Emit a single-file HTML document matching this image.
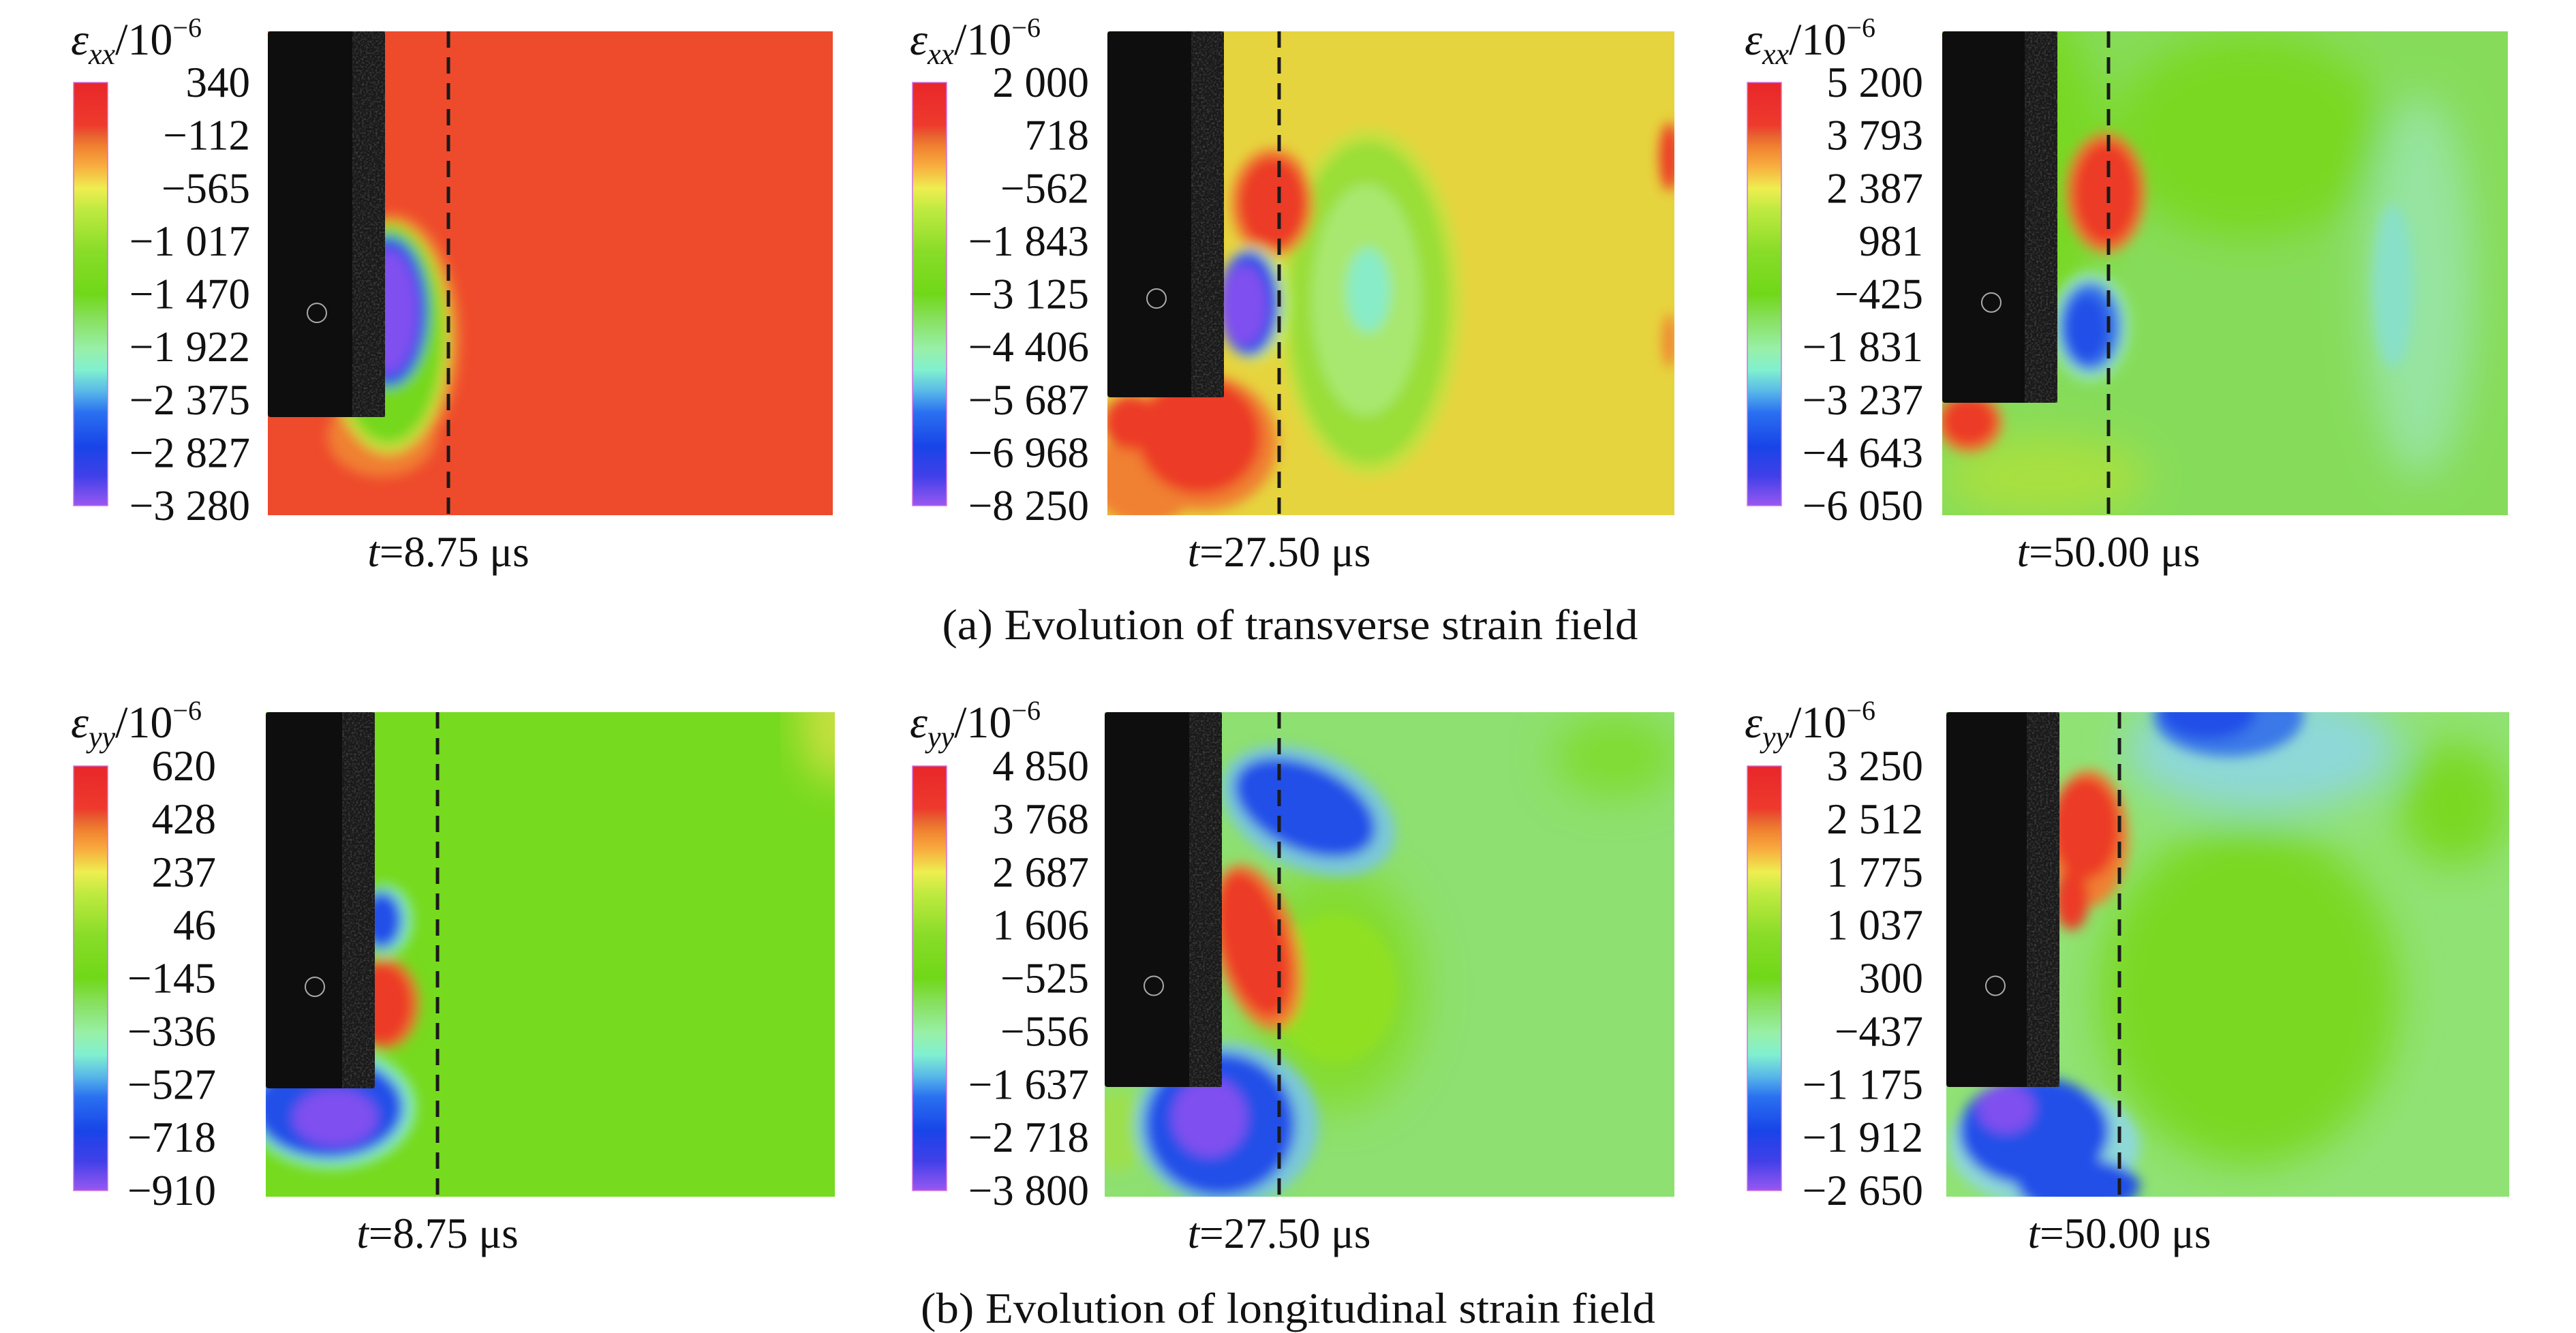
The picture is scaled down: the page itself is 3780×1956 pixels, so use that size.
<!DOCTYPE html>
<html><head><meta charset="utf-8">
<style>
html,body{margin:0;padding:0;background:#fff;}
svg{display:block;}
text{font-family:"Liberation Serif",serif;fill:#111;}
</style></head>
<body>
<svg id="fig" width="3780" height="1956" viewBox="0 0 3780 1956" xmlns="http://www.w3.org/2000/svg">
<defs>
<linearGradient id="cmap" x1="0" y1="0" x2="0" y2="1">
<stop offset="0" stop-color="#e8262a"/><stop offset="0.1" stop-color="#ee3a2c"/>
<stop offset="0.125" stop-color="#e86030"/><stop offset="0.15" stop-color="#f08030"/>
<stop offset="0.2" stop-color="#f8b040"/><stop offset="0.25" stop-color="#eeee50"/>
<stop offset="0.3" stop-color="#c0ea40"/><stop offset="0.4" stop-color="#88dc28"/>
<stop offset="0.5" stop-color="#70d818"/><stop offset="0.56" stop-color="#88e060"/>
<stop offset="0.63" stop-color="#98f0a8"/><stop offset="0.68" stop-color="#80f0d0"/>
<stop offset="0.73" stop-color="#58b8e8"/><stop offset="0.78" stop-color="#2a70f0"/>
<stop offset="0.86" stop-color="#1844e8"/><stop offset="0.93" stop-color="#4040e8"/>
<stop offset="1" stop-color="#9858f0"/>
</linearGradient>
<filter id="blur" x="-20%" y="-20%" width="140%" height="140%"><feGaussianBlur stdDeviation="9"/></filter>
<filter id="blur2" x="-30%" y="-30%" width="160%" height="160%"><feGaussianBlur stdDeviation="30"/></filter>
<filter id="speck" x="0" y="0" width="1" height="1"><feTurbulence type="fractalNoise" baseFrequency="0.35" numOctaves="1" result="n"/><feColorMatrix type="matrix" values="0 0 0 0 0.45 0 0 0 0 0.45 0 0 0 0 0.45 0 0 0 1.6 -0.7"/></filter>
</defs>
<g id="root"></g>
</svg>
<script>
// colour-bar tick labels per panel (top row: eps_xx, bottom row: eps_yy)
const ticksA1 = ["340","\u2212112","\u2212565","\u22121 017","\u22121 470","\u22121 922","\u22122 375","\u22122 827","\u22123 280"];
const ticksA2 = ["2 000","718","\u2212562","\u22121 843","\u22123 125","\u22124 406","\u22125 687","\u22126 968","\u22128 250"];
const ticksA3 = ["5 200","3 793","2 387","981","\u2212425","\u22121 831","\u22123 237","\u22124 643","\u22126 050"];
const ticksB1 = ["620","428","237","46","\u2212145","\u2212336","\u2212527","\u2212718","\u2212910"];
const ticksB2 = ["4 850","3 768","2 687","1 606","\u2212525","\u2212556","\u22121 637","\u22122 718","\u22123 800"];
const ticksB3 = ["3 250","2 512","1 775","1 037","300","\u2212437","\u22121 175","\u22121 912","\u22122 650"];
const times = ["8.75","27.50","50.00"];

const NS="http://www.w3.org/2000/svg";
const root=document.getElementById('root');
function mk(tag,attrs,parent){const e=document.createElementNS(NS,tag);for(const k in attrs)e.setAttribute(k,attrs[k]);(parent||root).appendChild(e);return e;}

const R='#ec3a28',O='#f08030',Y='#e8d840',YG='#c8e040',G='#74d81c',LG='#8ee070',C='#88ecc8',B='#2050e8',P='#8050f0';

const panels=[
 {row:0,sub:'xx',ticks:ticksA1,t:times[0],cb:108,lab:367,mx:393,mw:829,dash:658,bw:172,bb:612,bg:'#ee4a2c',
  soft:[],
  blobs:[[560,640,80,60,O],[575,496,100,182,O],[570,496,90,170,YG],[570,490,80,160,G],[570,457,58,110,B],[568,457,46,92,P]]},
 {row:0,sub:'xx',ticks:ticksA2,t:times[1],cb:1339,lab:1598,mx:1625,mw:832,dash:1877,bw:171,bb:583,bg:'#e6d43e',
  soft:[],
  blobs:[[2010,444,135,255,YG],[2008,444,118,236,'#9ade38'],[2005,440,80,170,'#a8e870'],[2008,426,32,62,C],
   [1680,700,80,70,O],[1765,650,110,100,O],[1760,640,90,85,R],[1660,620,40,40,R],
   [1867,298,60,80,O],[1867,298,50,68,R],[1840,445,52,85,'#c8f070'],[1833,445,45,78,B],[1826,448,34,60,P],
   [2450,230,15,50,R],[2450,500,10,40,O]]},
 {row:0,sub:'xx',ticks:ticksA3,t:times[2],cb:2564,lab:2822,mx:2850,mw:830,dash:3094,bw:169,bb:591,bg:'#86dc5a',
  soft:[[2950,250,140,260,'#78d822'],[3300,200,200,150,'#7ad820'],[3000,700,150,60,'#a8e040'],[3550,420,80,280,'#96e4a0']],
  blobs:[[3512,420,30,120,'#88e0c8'],
   [3090,283,58,88,O],[3090,283,48,76,R],[3067,479,58,80,'#98e8b8'],[3067,479,46,66,'#3a78e8'],[3062,482,32,50,B],
   [2890,620,48,44,O],[2889,618,40,36,R]]},
 {row:1,sub:'yy',ticks:ticksB1,t:times[0],cb:108,lab:317,mx:390,mw:835,dash:642,bw:160,bb:1597,bg:'#76da1e',
  soft:[[1225,1060,50,90,YG]],
  blobs:[[565,1350,40,52,C],[560,1350,30,42,B],[565,1473,50,66,O],[560,1473,45,60,R],
   [485,1625,125,90,C],[482,1625,110,75,B],[492,1640,62,42,P]]},
 {row:1,sub:'yy',ticks:ticksB2,t:times[1],cb:1339,lab:1598,mx:1621,mw:836,dash:1877,bw:172,bb:1595,bg:'#8ee070',
  soft:[[1960,1450,130,180,'#84dc30'],[2370,1110,90,60,'#80dc30']],
  blobs:[[1960,1450,90,110,'#90e020'],
   [1920,1190,135,85,'#7ac8d8',25],[1915,1185,110,62,B,25],
   [1845,1390,60,125,O,-15],[1840,1385,48,110,R,-15],
   [1640,1660,40,60,'#9ce050'],[1800,1650,135,120,'#7ac8d8'],[1790,1650,110,105,B],[1775,1640,55,58,P]]},
 {row:1,sub:'yy',ticks:ticksB3,t:times[2],cb:2564,lab:2822,mx:2856,mw:826,dash:3110,bw:166,bb:1595,bg:'#90e274',
  soft:[[3300,1460,220,250,'#7ad820'],[3600,1180,80,90,'#7ad820'],[3320,1100,200,90,'#8ed8d8']],
  blobs:[[3270,1050,110,60,'#3a78e8'],[3240,1045,70,40,B],
   [3065,1230,58,100,O],[3060,1215,50,75,R],[3040,1320,25,45,R],
   [3000,1680,140,90,'#8ed8d8'],[2985,1660,110,80,B],[3050,1740,90,40,B],[2944,1627,42,36,P]]}
];

panels.forEach((p,i)=>{
  const top=p.row===0?46:1045, bot=p.row===0?756:1756;
  const cbT=p.row===0?121:1124, cbB=p.row===0?742:1747;
  const g=mk('g',{});
  
  
  const tt=mk('text',{x:p.cb-4,y:p.row===0?80:1082,'font-size':66},g);
  
  
  tt.innerHTML='<tspan font-style="italic">\u03b5</tspan><tspan font-style="italic" font-size="44" dy="14">'+p.sub+'</tspan><tspan dy="-14">/10</tspan><tspan font-size="40" dy="-26">\u22126</tspan>';
  const cb=mk('rect',{x:p.cb,y:cbT,width:50,height:cbB-cbT,fill:'url(#cmap)',stroke:'#d070e0','stroke-width':1.5},g);
  
  
  const n=p.ticks.length;
  p.ticks.forEach((s,k)=>{
    const y=cbT+(cbB-cbT)*k/(n-1)+21;
    const t=mk('text',{x:p.lab,y:y,'font-size':63,'text-anchor':'end'},g);
    t.textContent=s;
    
    
  });
  const cid='clip'+i;
  const cp=mk('clipPath',{id:cid},g);
  mk('rect',{x:p.mx,y:top,width:p.mw,height:bot-top},cp);
  const map=mk('g',{'clip-path':'url(#'+cid+')'},g);
  
  
  mk('rect',{x:p.mx,y:top,width:p.mw,height:bot-top,fill:p.bg},map);
  const sg=mk('g',{filter:'url(#blur2)'},map);
  p.soft.forEach(b=>{
    const e=mk('ellipse',{cx:b[0],cy:b[1],rx:b[2],ry:b[3],fill:b[4]},sg);
    
    
  });
  const fg=mk('g',{filter:'url(#blur)'},map);
  p.blobs.forEach(b=>{
    const e=mk('ellipse',{cx:b[0],cy:b[1],rx:b[2],ry:b[3],fill:b[4]},fg);
    if(b[5])e.setAttribute('transform','rotate('+b[5]+' '+b[0]+' '+b[1]+')');
    
    
  });
  const blk=mk('rect',{x:p.mx,y:top,width:p.bw,height:p.bb-top,fill:'#0e0e0e',rx:4},map);
  
  
  mk('rect',{x:p.mx+p.bw-48,y:top,width:48,height:p.bb-top,fill:'#2a2a2a',filter:'url(#speck)'},map);
  mk('rect',{x:p.mx+p.bw-48,y:top,width:48,height:p.bb-top,fill:'#222',opacity:0.6},map);
  mk('circle',{cx:p.mx+72,cy:top+(p.bb-top)*0.73,r:14,fill:'none',stroke:'#aaa','stroke-width':2},map);
  const dl=mk('line',{x1:p.dash,y1:top,x2:p.dash,y2:bot,stroke:'#1a1a1a','stroke-width':5,'stroke-dasharray':'24 14'},g);
  
  
  const tl=mk('text',{x:p.dash,y:p.row===0?831:1831,'font-size':63,'text-anchor':'middle'},g);
  tl.innerHTML='<tspan font-style="italic">t</tspan>='+p.t+' \u03bcs';
  
  
});

const ca=mk('text',{x:1893,y:938,'font-size':64,'text-anchor':'middle',textLength:1021,lengthAdjust:'spacingAndGlyphs'});
ca.textContent='(a) Evolution of transverse strain field';


const cbb=mk('text',{x:1890,y:1941,'font-size':64,'text-anchor':'middle',textLength:1078,lengthAdjust:'spacingAndGlyphs'});
cbb.textContent='(b) Evolution of longitudinal strain field';


</script>
</body></html>
